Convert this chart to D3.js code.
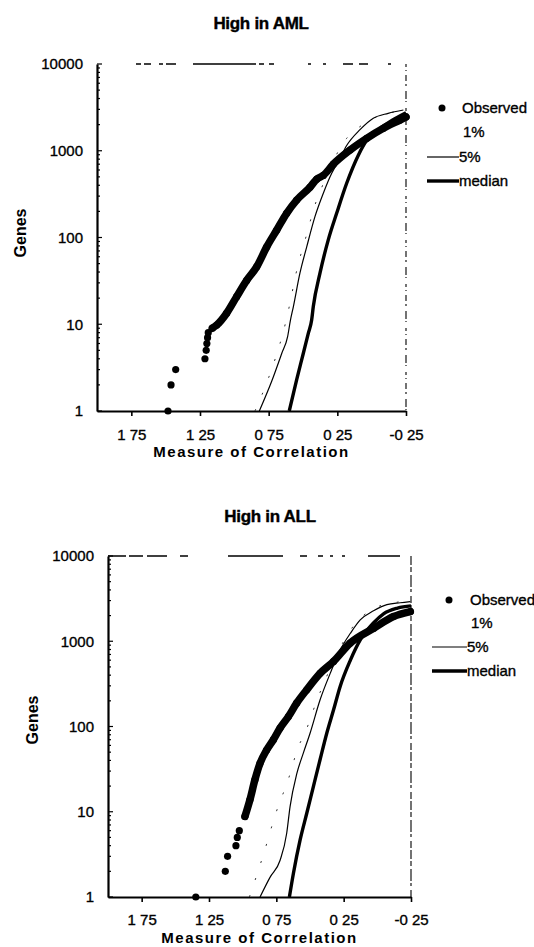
<!DOCTYPE html>
<html><head><meta charset="utf-8">
<script src="https://cdn.jsdelivr.net/npm/d3@7"></script>
<style>
body{margin:0;background:#fff}
svg{display:block}
text{font-family:"Liberation Sans",Arial,sans-serif;fill:#000}
</style>
</head><body>
<svg id="c" width="534" height="947"></svg>
<script>
// ---- data ----
const chartTitles = ["High in AML", "High in ALL"];
const legendLabels = ["Observed", "1%", "5%", "median"];
const xTicks = [1.75, 1.25, 0.75, 0.25, -0.25];
const yTicks = [1, 10, 100, 1000, 10000];
const xAxisTitle = "Measure of Correlation";
const yAxisTitle = "Genes";

// [measure of correlation, genes]
const amlObserved = [[1.483,1],[1.461,2],[1.427,3],[1.214,4],[1.205,5],[1.200,6],[1.195,7],[1.190,8],[1.160,9],[1.128,9.8],[1.056,13.4],[0.983,20.8],[0.910,32],[0.837,46],[0.764,78],[0.691,122],[0.619,190],[0.546,270],[0.449,380],[0.400,470],[0.352,520],[0.279,700],[0.157,1020],[0.036,1390],[-0.085,1815],[-0.206,2260],[-0.25,2450]];
const aml1 = [[0.85,1],[0.76,2.2],[0.69,4.6],[0.645,8],[0.60,16],[0.55,39],[0.50,78],[0.478,102],[0.413,237],[0.376,337],[0.182,1390],[0.085,1900],[0.012,2260],[-0.12,2700],[-0.25,2950]];
const aml5 = [[0.818,1],[0.728,2.2],[0.655,4.6],[0.612,7.2],[0.592,11],[0.570,16],[0.522,39],[0.473,78],[0.413,174],[0.352,324],[0.291,550],[0.243,750],[0.182,1150],[0.085,1750],[-0.012,2370],[-0.12,2700],[-0.231,2950]];
const amlMedian = [[0.600,1],[0.546,2.3],[0.498,4.6],[0.461,7.9],[0.437,11.2],[0.425,16],[0.376,39],[0.316,94],[0.255,190],[0.182,422],[0.097,890],[0.036,1320],[-0.05,1750],[-0.15,2250],[-0.25,2750]];

const allObserved = [[1.348,1],[1.129,2],[1.112,3],[1.050,4],[1.040,5],[1.025,6],[0.983,8.8],[0.946,13.8],[0.909,23.7],[0.871,37],[0.822,53],[0.772,70],[0.722,96],[0.660,131],[0.598,189],[0.524,270],[0.425,420],[0.325,580],[0.202,950],[0.027,1420],[-0.12,1950],[-0.245,2230]];
const all1 = [[0.95,1],[0.85,3],[0.75,10],[0.661,24],[0.586,58],[0.536,85],[0.45,200],[0.35,480],[0.25,1000],[0.165,1600],[0.05,2300],[-0.1,2800],[-0.25,2950]];
const all5 = [[0.871,1],[0.797,1.7],[0.722,2.7],[0.673,5.6],[0.648,11.5],[0.598,28],[0.549,49],[0.499,84],[0.425,206],[0.350,420],[0.276,790],[0.200,1240],[0.127,1780],[0.028,2280],[-0.071,2690],[-0.17,2830],[-0.245,2920]];
const allMedian = [[0.653,1],[0.623,1.9],[0.573,4.7],[0.524,9.6],[0.474,20],[0.425,41],[0.375,84],[0.325,157],[0.276,295],[0.200,600],[0.127,1035],[0.027,1650],[-0.046,2100],[-0.15,2450],[-0.25,2600]];

// ---- layout ----
const panels = [
  {title:chartTitles[0], obs:amlObserved, p1:aml1, p5:aml5, med:amlMedian,
   left:97, right:406, top:64, bottom:411, titleX:261, titleY:29, genesX:21, genesY:233,
   tickPad:13, axisTitleY:457, bandFrom:9,
   topDash:"0,39,5,3,7,8,4,3,10,17,63,3,5,5,5,34,3,12,3,17,10,6,9,20,3,30",
   rightDash:"3,3,1,4,6,3,2,5,8,2,1,6",
   lg:{dotX:442, lineX0:427, lineX1:459, textX:461, y:[108,132,157,181]}},
  {title:chartTitles[1], obs:allObserved, p1:all1, p5:all5, med:allMedian,
   left:108, right:411, top:556, bottom:897, titleX:270, titleY:522, genesX:33, genesY:720,
   tickPad:12, axisTitleY:943, bandFrom:8.8,
   topDash:"18,3,14,4,20,13,8,40,55,17,7,11,5,7,3,9,3,23,32,20",
   rightDash:"9,2,5,3,12,2,3,4,7,2",
   lg:{dotX:449, lineX0:432, lineX1:467, textX:469, y:[600,623,647,671]}}
];

const svg = d3.select("#c");
svg.append("rect").attr("width",534).attr("height",947).attr("fill","#fff");

const heavy = sel => sel.attr("stroke","#000").attr("stroke-width",0.35);

panels.forEach(p => {
  const g = svg.append("g");
  const x = d3.scaleLinear().domain([2.0,-0.25]).range([p.left,p.right]);
  const y = d3.scaleLog().domain([1,10000]).range([p.bottom,p.top]);

  // title
  g.append("text").attr("x",p.titleX).attr("y",p.titleY).attr("text-anchor","middle")
    .style("font-size","17px").style("font-weight","bold").style("letter-spacing","-0.3px")
    .attr("stroke","#000").attr("stroke-width",0.4).text(p.title);

  // frame (dashed top and right)
  g.append("line").attr("x1",p.left).attr("x2",p.right).attr("y1",p.top).attr("y2",p.top)
    .attr("stroke","#000").attr("stroke-width",1.4).attr("stroke-dasharray",p.topDash);
  g.append("line").attr("x1",p.right).attr("x2",p.right).attr("y1",p.top).attr("y2",p.bottom)
    .attr("stroke","#000").attr("stroke-width",1.1).attr("stroke-dasharray",p.rightDash);

  // x axis
  const xa = g.append("g").attr("transform",`translate(0,${p.bottom})`)
    .call(d3.axisBottom(x).tickValues(xTicks).tickSize(5).tickSizeOuter(0).tickPadding(p.tickPad)
      .tickFormat(d => String(d).replace(".", " ")));
  xa.select(".domain").attr("stroke-width",2);
  xa.selectAll(".tick line").attr("stroke-width",1.6);
  xa.selectAll("text").style("font-size","15px").style("font-family","Liberation Sans, Arial, sans-serif").call(heavy);

  // y axis
  const ya = g.append("g").attr("transform",`translate(${p.left},0)`)
    .call(d3.axisLeft(y).tickValues(yTicks).tickSize(0).tickSizeOuter(0).tickPadding(14)
      .tickFormat(d3.format("d")));
  ya.select(".domain").attr("stroke-width",2.2);
  ya.selectAll("text").style("font-size","15px").style("font-family","Liberation Sans, Arial, sans-serif").call(heavy);
  // inward minor ticks
  g.append("g").selectAll("line").data(y.ticks()).join("line")
    .attr("x1",p.left).attr("x2",d => p.left + (yTicks.includes(d) ? 5 : 3))
    .attr("y1",d => y(d)).attr("y2",d => y(d)).attr("stroke","#000").attr("stroke-width",1.2);

  // axis titles
  g.append("text").attr("x",(p.left+p.right)/2).attr("y",p.axisTitleY).attr("text-anchor","middle")
    .style("font-size","15px").style("font-weight","bold").style("letter-spacing","1.5px").text(xAxisTitle);
  g.append("text").attr("transform",`translate(${p.genesX + 5},${p.genesY}) rotate(-90)`)
    .attr("text-anchor","middle").style("font-size","16px").style("font-weight","bold").text(yAxisTitle);

  // series
  const line = d3.line().x(d => x(d[0])).y(d => y(d[1])).curve(d3.curveMonotoneX);
  const clipId = "clip" + p.left;
  svg.append("clipPath").attr("id",clipId).append("rect")
    .attr("x",p.left).attr("y",p.top-6).attr("width",p.right-p.left+6).attr("height",p.bottom-p.top+6);
  const plot = g.append("g").attr("clip-path",`url(#${clipId})`);

  plot.append("path").attr("d",line(p.p1)).attr("fill","none").attr("stroke","#333")
    .attr("stroke-width",1).attr("stroke-dasharray","2,16");
  plot.append("path").attr("d",line(p.p5)).attr("fill","none").attr("stroke","#000").attr("stroke-width",1.2);
  plot.append("path").attr("d",line(p.med)).attr("fill","none").attr("stroke","#000").attr("stroke-width",3.4);

  const band = p.obs.filter(d => d[1] >= p.bandFrom);
  plot.append("path").attr("d",line(band)).attr("fill","none").attr("stroke","#000")
    .attr("stroke-width",7.5).attr("stroke-linecap","round").attr("stroke-linejoin","round");
  g.append("g").selectAll("circle").data(p.obs).join("circle")
    .attr("cx",d => x(d[0])).attr("cy",d => y(d[1])).attr("r",3.6).attr("fill","#000");

  // legend
  const L = p.lg;
  g.append("circle").attr("cx",L.dotX).attr("cy",L.y[0]).attr("r",3.5).attr("fill","#000");
  g.append("line").attr("x1",L.lineX0).attr("x2",L.lineX1).attr("y1",L.y[2]).attr("y2",L.y[2])
    .attr("stroke","#000").attr("stroke-width",1.2);
  g.append("line").attr("x1",L.lineX0).attr("x2",L.lineX1).attr("y1",L.y[3]).attr("y2",L.y[3])
    .attr("stroke","#000").attr("stroke-width",3.4);
  legendLabels.forEach((lab,i) => {
    const tx = i === 0 ? L.textX + 1 : (i === 1 ? L.textX + 2 : L.textX - 2);
    g.append("text").attr("x",tx).attr("y",L.y[i]).attr("dy","0.35em")
      .style("font-size","15px").call(heavy).text(lab);
  });
});
</script>
</body></html>
